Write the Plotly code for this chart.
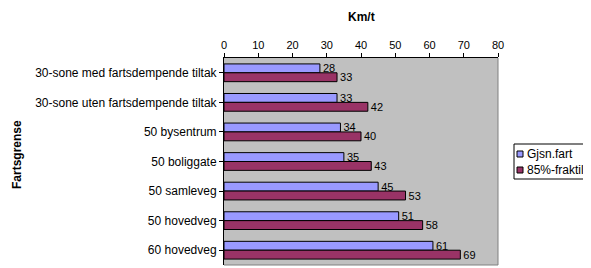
import plotly.graph_objects as go

categories = [
    "30-sone med fartsdempende tiltak",
    "30-sone uten fartsdempende tiltak",
    "50 bysentrum",
    "50 boliggate",
    "50 samleveg",
    "50 hovedveg",
    "60 hovedveg",
]
gjsn_fart = [28, 33, 34, 35, 45, 51, 61]
fraktil_85 = [33, 42, 40, 43, 53, 58, 69]
x_ticks = [0, 10, 20, 30, 40, 50, 60, 70, 80]
series_names = ["Gjsn.fart", "85%-fraktil"]
series_colors = ["#9999FF", "#993366"]

FONT = "Liberation Sans, Arial, sans-serif"
OFF = 8  # default page body margin
W, H = 591 - OFF, 268 - OFF
ML, MT = 224 - OFF, 58 - OFF
MR = W - (498 - OFF)
MB = H - (265 - OFF)
PW, PH = W - ML - MR, H - MT - MB


def px_x(x):
    return (x - OFF - ML) / PW


def px_y(y):
    return 1 - (y - OFF - MT) / PH


fig = go.Figure()
for name, vals, col in zip(series_names, [gjsn_fart, fraktil_85], series_colors):
    fig.add_trace(go.Bar(
        y=categories, x=vals, name=name, orientation="h",
        marker=dict(color=col, line=dict(color="black", width=1)),
        text=vals, textposition="outside", cliponaxis=False,
        constraintext="none",
        textfont=dict(size=11, color="black", family=FONT),
        showlegend=False,
    ))

fig.update_layout(
    width=W, height=H,
    margin=dict(l=ML, r=MR, t=MT, b=MB, autoexpand=False),
    paper_bgcolor="white", plot_bgcolor="#C0C0C0",
    font=dict(family=FONT, size=11, color="black"),
    barmode="group", bargap=0.4, bargroupgap=0,
    showlegend=False,
)
fig.update_xaxes(
    side="top", range=[0, 80], tickvals=x_ticks,
    ticks="outside", ticklen=4, tickcolor="black",
    showline=True, linecolor="black", linewidth=1,
    showgrid=False, zeroline=False, automargin=False,
    tickfont=dict(size=11),
)
fig.update_yaxes(
    autorange="reversed", ticks="outside", ticklen=4, tickcolor="black",
    showline=True, linecolor="black", linewidth=1, showgrid=False,
    automargin=False, tickfont=dict(size=12),
)
# gray border right/bottom of plot area
fig.add_shape(type="line", xref="x domain", yref="y domain", x0=1, x1=1, y0=0, y1=1,
              line=dict(color="#808080", width=1))
fig.add_shape(type="line", xref="x domain", yref="y domain", x0=0, x1=1, y0=0, y1=0,
              line=dict(color="#808080", width=1))

fig.add_annotation(text="<b>Km/t</b>", xref="paper", yref="paper", x=0.5, y=px_y(17),
                   xanchor="center", yanchor="middle", showarrow=False,
                   font=dict(size=12, family=FONT))
fig.add_annotation(text="<b>Fartsgrense</b>", xref="paper", yref="paper",
                   x=px_x(17), y=px_y(155), textangle=-90,
                   xanchor="center", yanchor="middle", showarrow=False,
                   font=dict(size=12, family=FONT))

# legend box (drawn manually to match the compact legend)
fig.add_shape(type="rect", xref="paper", yref="paper",
              x0=px_x(514), x1=px_x(590), y0=px_y(179), y1=px_y(144),
              line=dict(color="black", width=1), fillcolor="white")
for i, (name, col) in enumerate(zip(series_names, series_colors)):
    cy = 154 + 16 * i
    fig.add_shape(type="rect", xref="paper", yref="paper",
                  x0=px_x(517), x1=px_x(523), y0=px_y(cy + 3), y1=px_y(cy - 3),
                  line=dict(color="black", width=1), fillcolor=col)
    fig.add_annotation(text=name, xref="paper", yref="paper",
                       x=px_x(525), y=px_y(cy), xanchor="left", yanchor="middle",
                       showarrow=False, font=dict(size=12, family=FONT))

fig.write_html("out.html")
